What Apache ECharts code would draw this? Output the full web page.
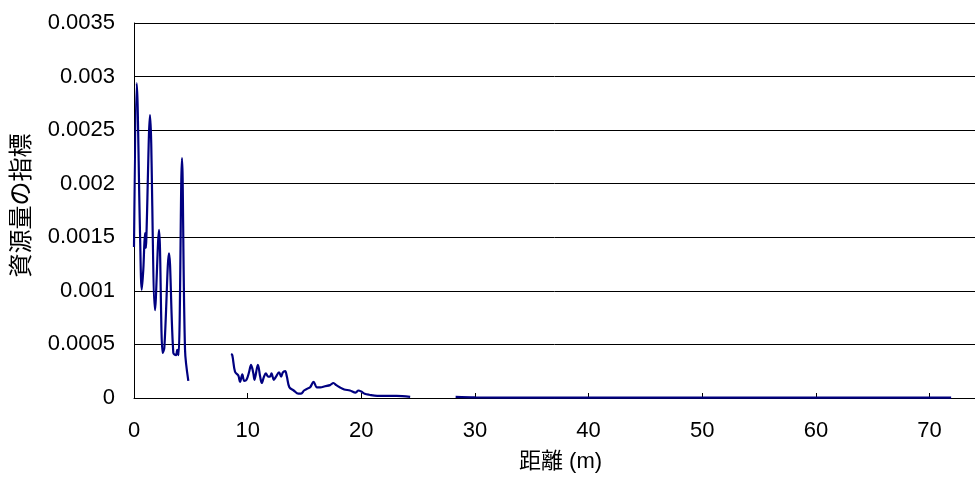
<!DOCTYPE html>
<html><head><meta charset="utf-8">
<script src="https://cdn.jsdelivr.net/npm/echarts@6/dist/echarts.min.js"></script>
<style>html,body{margin:0;padding:0;background:#fff}#c{width:975px;height:479px}</style>
</head><body><div id="c"></div>
<script>
// distance (m)
var distances = [
  0, 0.24, 0.53, 0.68, 0.82, 0.97, 1.05, 1.1, 1.41, 1.85, 2.2, 2.52, 2.67, 3.08, 3.46, 3.7, 3.8, 3.92, 4.22, 4.49, 4.78,
  null,
  8.54, 8.65, 8.89, 9.18, 9.33, 9.53, 9.7, 9.9, 10.12, 10.3, 10.5, 10.6, 10.9, 11.1, 11.24, 11.44, 11.6, 11.8, 11.97, 12.1, 12.3, 12.5, 12.76, 12.95, 13.1, 13.3, 13.45, 13.67, 14.05, 14.46, 14.7, 14.96, 15.3, 15.5, 15.8, 16.1, 16.4, 16.8, 17.25, 17.55, 17.8, 18.1, 18.5, 19.0, 19.5, 19.75, 20.0, 20.3, 20.7, 21.4, 22.2, 23.1, 24.3,
  null,
  28.3, 30, 35, 40, 45, 50, 55, 60, 65, 70, 71.9
];
// resource index
var values = [
  0.00141, 0.00294, 0.00154, 0.00101, 0.0012, 0.00154, 0.0014, 0.00154, 0.00264, 0.00082, 0.00157, 0.00042, 0.00047, 0.00135, 0.00042, 0.0004, 0.00045, 0.0004, 0.00224, 0.00045, 0.00016,
  null,
  0.00041, 0.0004, 0.000245, 0.00021, 0.00015, 0.00022, 0.00016, 0.00017, 0.00024, 0.00031, 0.00023, 0.00017, 0.00031, 0.0002, 0.00014, 0.0002, 0.00023, 0.0002, 0.0002, 0.00023, 0.00017, 0.0002, 0.00024, 0.0002, 0.00024, 0.00025, 0.0002, 0.0001, 0.00007, 0.00004, 0.00004, 0.00007, 0.00009, 0.0001, 0.00015, 0.0001, 0.0001, 0.00011, 0.00012, 0.00014, 0.00012, 0.0001, 0.00008, 0.00007, 0.00005, 0.00007, 0.00006, 0.00004, 0.00003, 0.00002, 0.00002, 0.00002, 0.00001,
  null,
  0.00001, 0.000006, 0.000004, 0.000004, 0.000003, 0.000003, 0.000003, 0.000003, 0.000003, 0.000003, 0.000003
];
var yTickLabels = ['0', '0.0005', '0.001', '0.0015', '0.002', '0.0025', '0.003', '0.0035'];
var xTickLabels = ['0', '10', '20', '30', '40', '50', '60', '70'];

var data = distances.map(function (d, i) { return d === null ? [null, null] : [d, values[i]]; });
var FONT = '"Liberation Sans", Arial, "Noto Sans CJK JP", sans-serif';
var chart = echarts.init(document.getElementById('c'));
chart.setOption({
  animation: false,
  grid: { left: 134, right: 0, top: 23, bottom: 81, containLabel: false, outerBoundsMode: 'none' },
  xAxis: {
    type: 'value', min: 0, max: 74, interval: 10,
    name: '距離 (m)', nameLocation: 'middle', nameGap: 53,
    nameTextStyle: { fontFamily: FONT, fontSize: 22, color: '#000', padding: [0, 0, 0, 12] },
    axisLine: { lineStyle: { color: '#000', width: 1 } },
    axisTick: { inside: true, length: 5, lineStyle: { color: '#000' } },
    axisLabel: { showMaxLabel: false, margin: 22, fontFamily: FONT, fontSize: 22, color: '#000',
      formatter: function (v) { return xTickLabels[Math.round(v / 10)]; } },
    splitLine: { show: false }
  },
  yAxis: {
    type: 'value', min: 0, max: 0.0035, interval: 0.0005,
    name: '資源量の指標', nameLocation: 'middle', nameGap: 100, nameRotate: 90,
    nameTextStyle: { fontFamily: FONT, fontSize: 24, color: '#000', padding: [0, 0, 0, 10] },
    axisLine: { show: true, lineStyle: { color: '#000', width: 1 } },
    axisTick: { show: true, inside: true, length: 5, lineStyle: { color: '#000' } },
    axisLabel: { margin: 19, fontFamily: FONT, fontSize: 22, color: '#000',
      formatter: function (v) { return yTickLabels[Math.round(v / 0.0005)]; } },
    splitLine: { show: true, lineStyle: { color: '#000', width: 1 } }
  },
  series: [{
    type: 'line', data: data, showSymbol: false, symbol: 'none', connectNulls: false,
    smooth: 0.35,
    lineStyle: { color: '#000080', width: 2.2 }
  }]
});
</script></body></html>
